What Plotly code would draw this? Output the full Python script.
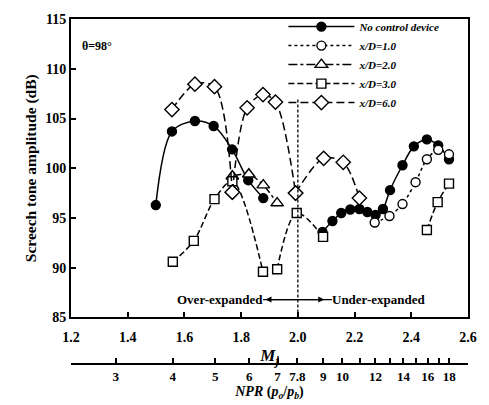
import numpy as np
import plotly.graph_objects as go

# Screech tone amplitude vs fully expanded jet Mach number, theta = 98 deg.
# Each series is split into lobes (None separates lobes).
nc_mj = [1.499, 1.556, 1.637, 1.703, 1.768, 1.825, 1.878, None,
         2.087, 2.122, 2.153, 2.185, 2.217, 2.245, 2.274, 2.300, 2.325,
         2.369, 2.409, 2.455, 2.495, 2.533]
nc_db = [96.3, 103.7, 104.75, 104.25, 101.9, 98.8, 97.0, None,
         93.6, 94.7, 95.5, 95.85, 95.9, 95.6, 95.3, 95.9, 97.8,
         100.3, 102.2, 102.9, 102.3, 100.9]

xd1_mj = [2.271, 2.323, 2.369, 2.415, 2.455, 2.495, 2.533]
xd1_db = [94.55, 95.2, 96.4, 98.6, 100.9, 101.85, 101.4]

xd2_mj = [1.769, 1.827, 1.878, 1.927]
xd2_db = [99.2, 99.4, 98.3, 96.5]

xd3_mj = [1.559, 1.633, 1.706, 1.769, 1.877, None,
          1.927, 1.996, 2.089, None,
          2.455, 2.493, 2.533]
xd3_db = [90.6, 92.7, 96.9, 98.7, 89.6, None,
          89.85, 95.5, 93.1, None,
          93.8, 96.6, 98.45]

xd6_mj = [1.556, 1.637, 1.706, 1.769, None,
          1.769, 1.821, 1.877, 1.921, 1.992, None,
          1.992, 2.091, 2.160, 2.217]
xd6_db = [105.9, 108.45, 108.2, 97.6, None,
          97.6, 106.07, 107.4, 106.65, 97.5, None,
          97.5, 101.0, 100.6, 97.0]

# Secondary scale: nozzle pressure ratio (labelled and unlabelled ticks)
npr_ticks = [3, 4, 5, 6, 7, 7.8, 9, 10, 12, 14, 16, 18]
npr_labels = ["3", "4", "5", "6", "7", "7.8", "9", "10", "12", "14", "16", "18"]
npr_minor = [11, 13, 15, 17]

mj_ticks = [1.2, 1.4, 1.6, 1.8, 2.0, 2.2, 2.4, 2.6]
mj_labels = ["1.2", "1.4", "1.6", "1.8", "2.0", "2.2", "2.4", "2.6"]

GAMMA = 1.4


def mj_from_npr(npr):
    """Isentropic relation between NPR and fully expanded Mach number."""
    npr = np.asarray(npr, dtype=float)
    e = (GAMMA - 1.0) / GAMMA
    return np.sqrt((npr ** e - 1.0) * 2.0 / (GAMMA - 1.0))


SERIF = "Liberation Serif"
BLACK = "#000000"

series = [
    dict(name="No control device", x=nc_mj, y=nc_db, symbol="circle",
         fill=BLACK, dash="solid", size=9),
    dict(name="x/D=1.0", x=xd1_mj, y=xd1_db, symbol="circle",
         fill="white", dash="3px,3px", size=9),
    dict(name="x/D=2.0", x=xd2_mj, y=xd2_db, symbol="triangle-up",
         fill="white", dash="dashdot", size=11),
    dict(name="x/D=3.0", x=xd3_mj, y=xd3_db, symbol="square",
         fill="white", dash="6px,3px", size=9),
    dict(name="x/D=6.0", x=xd6_mj, y=xd6_db, symbol="diamond",
         fill="white", dash="8px,4px", size=11),
]

fig = go.Figure()
for s in series:
    fig.add_trace(go.Scatter(
        x=s["x"], y=s["y"], name=s["name"], mode="lines+markers",
        connectgaps=False,
        line=dict(color=BLACK, width=1.5, dash=s["dash"], shape="spline",
                  smoothing=0.9),
        marker=dict(symbol=s["symbol"], size=s["size"], color=s["fill"],
                    line=dict(color=BLACK, width=1.4)),
    ))

# Invisible trace carrying the NPR axis
fig.add_trace(go.Scatter(x=[1.2, 2.6], y=[None, None], xaxis="x2",
                         showlegend=False, hoverinfo="skip",
                         mode="markers", marker=dict(opacity=0)))

fig.update_layout(
    width=489, height=405,
    margin=dict(l=71, r=12, t=15, b=34),
    paper_bgcolor="white", plot_bgcolor="white",
    font=dict(family=SERIF, color=BLACK, size=13, weight="bold"),
    showlegend=True,
    legend=dict(x=0.535, y=1.02, xanchor="left", yanchor="top",
                bgcolor="rgba(255,255,255,0)", borderwidth=0,
                itemwidth=66, tracegroupgap=0,
                font=dict(family=SERIF, size=11, style="italic",
                          weight="bold")),
    xaxis=dict(range=[1.2, 2.6], tickmode="array",
               tickvals=mj_ticks, ticktext=mj_labels,
               ticks="inside", ticklen=5, tickwidth=1.5, tickcolor=BLACK,
               ticklabelstandoff=6,
               showline=True, linecolor=BLACK, linewidth=2, mirror=True,
               showgrid=False, zeroline=False, anchor="y",
               tickfont=dict(size=14),
               title=dict(text="<i>M<sub>j</sub></i>", standoff=5,
                          font=dict(size=17))),
    xaxis2=dict(range=[1.2, 2.6], overlaying="x", anchor="free", position=0,
                side="bottom", tickmode="array",
                tickvals=list(mj_from_npr(npr_ticks)), ticktext=npr_labels,
                ticks="inside", ticklen=5, tickwidth=1.5, tickcolor=BLACK,
                minor=dict(tickvals=list(mj_from_npr(npr_minor)),
                           ticks="inside", ticklen=5, tickwidth=1.5,
                           tickcolor=BLACK, showgrid=False),
                showline=True, linecolor=BLACK, linewidth=2,
                showgrid=False, zeroline=False,
                tickfont=dict(size=13),
                title=dict(text="<i>NPR</i> (<i>p<sub>o</sub></i>/<i>p<sub>b</sub></i>)",
                           standoff=0, font=dict(size=14))),
    yaxis=dict(range=[85, 115], dtick=5, domain=[0.1348, 1],
               ticks="inside", ticklen=5, tickwidth=1.5, tickcolor=BLACK,
               showline=True, linecolor=BLACK, linewidth=2, mirror=True,
               showgrid=False, zeroline=False,
               tickfont=dict(size=14),
               title=dict(text="Screech tone amplitude (dB)", standoff=5,
                          font=dict(size=15.5))),
)

# Design Mach number divider (Mj = 2.0)
fig.add_shape(type="line", xref="x", yref="y", x0=2.0, x1=2.0, y0=85, y1=107.1,
              line=dict(color=BLACK, width=1.3, dash="3px,2px"))

fig.add_annotation(x=0.022, y=0.947, xref="paper", yref="paper",
                   text="θ=98°", showarrow=False, xanchor="left",
                   font=dict(size=12))

# Over / under-expanded labels, each with an arrow across the divider
arrow_y = 86.8
fig.add_annotation(x=2.093, y=arrow_y, ax=1.724, ay=arrow_y, xref="x", yref="y",
                   axref="x", ayref="y", text="Over-expanded", showarrow=True,
                   arrowhead=2, arrowsize=1, arrowwidth=1.2, arrowcolor=BLACK,
                   borderpad=0, font=dict(size=13))
fig.add_annotation(x=1.886, y=arrow_y, ax=2.286, ay=arrow_y, xref="x", yref="y",
                   axref="x", ayref="y", text="Under-expanded", showarrow=True,
                   arrowhead=2, arrowsize=1, arrowwidth=1.2, arrowcolor=BLACK,
                   borderpad=0, font=dict(size=13))

fig.write_html("out.html")
